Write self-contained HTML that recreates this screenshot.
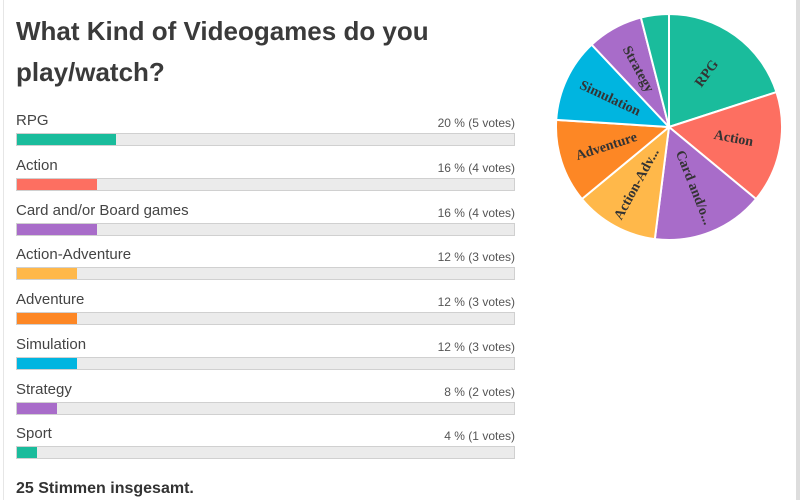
<!DOCTYPE html>
<html><head><meta charset="utf-8"><style>
body{margin:0;width:800px;height:500px;background:#fff;font-family:"Liberation Sans",sans-serif;color:#333;position:relative;overflow:hidden}
.lb{position:absolute;left:3px;top:0;width:1px;height:500px;background:#e6e6e6}
.rb{position:absolute;left:796px;top:0;width:4px;height:500px;background:#ddd}
h1{position:absolute;left:16px;top:11px;margin:0;font-size:26px;line-height:41px;font-weight:bold;color:#3a3a3a;width:440px}
.row{position:absolute;left:16px;width:499px}
.row .n{position:absolute;left:0;top:0;font-size:15px;color:#444}
.row .p{position:absolute;right:0;top:4px;font-size:12px;color:#555}
.row .bar{position:absolute;left:0;top:21px;width:497px;height:11px;background:#ebebeb;border:1px solid #d0d0d0}
.row .f{height:100%}
.tot{position:absolute;left:16px;top:480px;font-size:16px;font-weight:bold;color:#333}
</style></head><body>
<div class="lb"></div><div class="rb"></div>
<h1>What Kind of Videogames do you play/watch?</h1>
<div id="rows"></div>
<div class="tot">25 Stimmen insgesamt.</div>
<svg id="pie" width="800" height="500" style="position:absolute;left:0;top:0"></svg>
<script>
var d=[["RPG",5,"#1abc9c","RPG"],["Action",4,"#fd6f61","Action"],["Card and/or Board games",4,"#a86cc9","Card and/o..."],["Action-Adventure",3,"#ffb84a","Action-Adv..."],["Adventure",3,"#fd8725","Adventure"],["Simulation",3,"#00b5e0","Simulation"],["Strategy",2,"#a86cc9","Strategy"],["Sport",1,"#1abc9c",""]];
var h="";d.forEach(function(r,i){var pc=r[1]*4;h+='<div class="row" style="top:'+(112+i*44.75)+'px"><div class="n">'+r[0]+'</div><div class="p">'+pc+' % ('+r[1]+' votes)</div><div class="bar"><div class="f" style="width:'+pc+'%;background:'+r[2]+'"></div></div></div>';});
document.getElementById("rows").innerHTML=h;
var cx=669,cy=127,R=113,a=0,s="";
d.forEach(function(r){var sw=r[1]/25*360,a2=a+sw;function pt(t,rr){var q=(t-90)*Math.PI/180;return [cx+rr*Math.cos(q),cy+rr*Math.sin(q)];}
var p1=pt(a,R),p2=pt(a2,R);s+='<path d="M'+cx+','+cy+'L'+p1[0]+','+p1[1]+'A'+R+','+R+' 0 '+(sw>180?1:0)+' 1 '+p2[0]+','+p2[1]+'Z" fill="'+r[2]+'" stroke="#fff" stroke-width="2"/>';
var m=a+sw/2,lp=pt(m,R*0.58),rot=m-90;if(rot>90)rot-=180;
if(r[3])s+='<text x="'+lp[0]+'" y="'+lp[1]+'" transform="rotate('+rot+' '+lp[0]+' '+lp[1]+')" text-anchor="middle" dominant-baseline="middle" font-family="Liberation Serif,serif" font-weight="bold" font-size="14" fill="#333">'+r[3]+'</text>';
a=a2;});
document.getElementById("pie").innerHTML=s;
</script>
</body></html>
